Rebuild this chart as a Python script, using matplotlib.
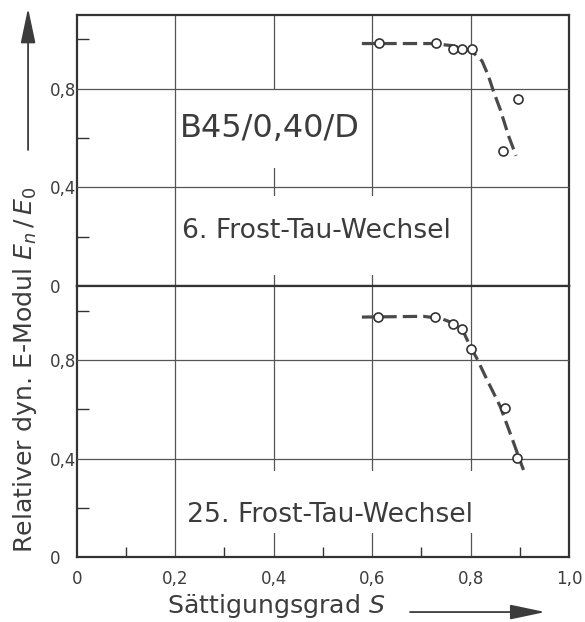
"""Relativer dyn. E-Modul über Sättigungsgrad (B45/0,40/D)"""

import matplotlib
matplotlib.use('Agg')  # kein Display
import matplotlib.pyplot as plt
from matplotlib.patches import Rectangle, FancyArrowPatch

# --- Daten ---
x_ticks = [0, 0.2, 0.4, 0.6, 0.8, 1.0]
x_labels = ['0', '0,2', '0,4', '0,6', '0,8', '1,0']
x_minor = [0.1, 0.3, 0.5, 0.7, 0.9]
y_ticks = [0, 0.4, 0.8]
y_labels = ['0', '0,4', '0,8']
y_minor = [0.2, 0.6, 1.0]

# 6. Frost-Tau-Wechsel
s_pts_6 = [0.614, 0.729, 0.764, 0.783, 0.802, 0.896, 0.865]
e_pts_6 = [0.984, 0.984, 0.959, 0.959, 0.959, 0.760, 0.546]
s_curve_6 = [0.579, 0.720, 0.760, 0.785, 0.802, 0.823, 0.836, 0.846, 0.860, 0.877, 0.892]
e_curve_6 = [0.983, 0.983, 0.975, 0.962, 0.952, 0.912, 0.851, 0.790, 0.715, 0.607, 0.528]

# 25. Frost-Tau-Wechsel
s_pts_25 = [0.612, 0.728, 0.764, 0.783, 0.801, 0.870, 0.894]
e_pts_25 = [0.974, 0.974, 0.946, 0.927, 0.846, 0.604, 0.404]
s_curve_25 = [0.579, 0.704, 0.740, 0.765, 0.785, 0.799, 0.812, 0.833, 0.860, 0.880, 0.907]
e_curve_25 = [0.974, 0.977, 0.968, 0.949, 0.915, 0.855, 0.808, 0.720, 0.611, 0.503, 0.354]

INK = '#333333'
GRID = '#555555'
TXT = '#3c3c3c'

plt.rcParams['font.family'] = ['DejaVu Sans']
plt.rcParams['mathtext.fontset'] = 'dejavusans'

fig = plt.figure(figsize=(5.85, 6.22), dpi=100)
L, W = 0.1311, 0.842
B, MID = 0.104, 0.5402
H = MID - B
ax_top = fig.add_axes([L, MID, W, H])
ax_bot = fig.add_axes([L, B, W, H])


def setup_panel(ax, masks, show_x):
    ax.set_xlim(0, 1.0)
    ax.set_ylim(0, 1.1)
    for sp in ax.spines.values():
        sp.set_linewidth(1.6)
        sp.set_color(INK)
    # senkrechte Gitterlinien (unter den Textfeldern)
    for x in x_ticks[1:-1]:
        ax.axvline(x, color=GRID, lw=0.9, zorder=1)
    # waagerechte Gitterlinien
    for y in y_ticks[1:]:
        ax.axhline(y, color=GRID, lw=0.9, zorder=3)
    for (x0, y0, w, h) in masks:
        ax.add_patch(Rectangle((x0, y0), w, h, facecolor='white',
                               edgecolor='none', zorder=2))

    ax.set_yticks(y_ticks)
    ax.set_yticklabels(y_labels)
    ax.set_yticks(y_minor, minor=True)
    ax.tick_params(axis='y', which='major', length=0, pad=19.4,
                   labelsize=12, labelcolor=TXT)
    for lab in ax.get_yticklabels():
        lab.set_ha('left')
        lab.set_va('center_baseline')
    ax.tick_params(axis='y', which='minor', direction='in', length=8.6,
                   width=1.0, color=INK)

    ax.set_xticks(x_ticks)
    if show_x:
        ax.set_xticklabels(x_labels)
        ax.set_xticks(x_minor, minor=True)
        ax.tick_params(axis='x', which='minor', direction='in', length=7.5,
                       width=1.0, color=INK)
        ax.tick_params(axis='x', which='major', length=0, pad=9,
                       labelsize=12, labelcolor=TXT)
    else:
        ax.tick_params(axis='x', which='major', length=0, labelbottom=False)


setup_panel(ax_top, [(0.22, 0.48, 0.35, 0.315), (0.22, 0.045, 0.56, 0.32)], False)
setup_panel(ax_bot, [(0.22, 0.10, 0.62, 0.25)], True)

dash = (0, (4.5, 1.9))
for ax, sc, ec, sp, ep in [(ax_top, s_curve_6, e_curve_6, s_pts_6, e_pts_6),
                           (ax_bot, s_curve_25, e_curve_25, s_pts_25, e_pts_25)]:
    ax.plot(sc, ec, color='#4a4a4a', lw=2.3, linestyle=dash,
            solid_capstyle='butt', zorder=5)
    ax.plot(sp, ep, linestyle='none', marker='o', markersize=6.5,
            markerfacecolor='white', markeredgecolor=INK, markeredgewidth=1.2,
            zorder=6)

ax_top.text(0.209, 0.606, 'B45/0,40/D', fontsize=23, color=TXT,
            ha='left', va='baseline', zorder=4)
ax_top.text(0.213, 0.195, '6. Frost-Tau-Wechsel', fontsize=19.2, color=TXT,
            ha='left', va='baseline', zorder=4)
ax_bot.text(0.224, 0.142, '25. Frost-Tau-Wechsel', fontsize=19.2, color=TXT,
            ha='left', va='baseline', zorder=4)

# Achsenbeschriftungen mit Pfeilen
fig.text(0.042, 0.405, r'Relativer dyn. E-Modul $E_n\,/\,E_0$', rotation=90,
         fontsize=18.2, color=TXT, ha='center', va='center')
fig.text(0.472, 0.0145, r'Sättigungsgrad $S$', fontsize=18.2, color=TXT,
         ha='center', va='baseline')
arrow = dict(arrowstyle='-|>,head_length=1.8,head_width=0.38', color=TXT,
             lw=1.3, mutation_scale=12, shrinkA=0, shrinkB=0)
fig.add_artist(FancyArrowPatch((0.048, 0.759), (0.048, 0.987),
                               transform=fig.transFigure, **arrow))
fig.add_artist(FancyArrowPatch((0.701, 0.016), (0.932, 0.016),
                               transform=fig.transFigure, **arrow))

plt.savefig('out.png', dpi=100)
plt.close()
